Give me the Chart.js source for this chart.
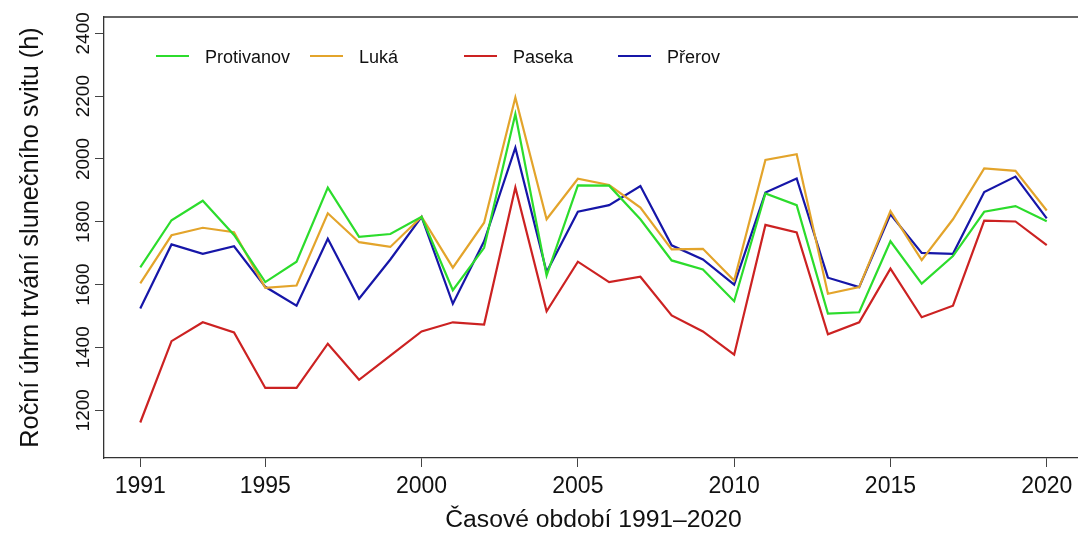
<!DOCTYPE html>
<html>
<head>
<meta charset="utf-8">
<script src="https://cdn.jsdelivr.net/npm/chart.js@4"></script>
<style>
  html, body { margin: 0; padding: 0; background: #fff; overflow: hidden; }
  #wrap { width: 1090px; height: 536px; }
</style>
</head>
<body>
<div id="wrap"><canvas id="lineChart"></canvas></div>
<script>
// -- Data --
const years = [1991, 1992, 1993, 1994, 1995, 1996, 1997, 1998, 1999, 2000,
  2001, 2002, 2003, 2004, 2005, 2006, 2007, 2008, 2009, 2010,
  2011, 2012, 2013, 2014, 2015, 2016, 2017, 2018, 2019, 2020]

const protivanov = [1655, 1805, 1867, 1758, 1608, 1673, 1909, 1752, 1761, 1816,
  1582, 1717, 2143, 1629, 1916, 1915, 1808, 1677, 1648, 1547,
  1890, 1853, 1508, 1512, 1738, 1603, 1691, 1832, 1850, 1802]
const luka = [1604, 1757, 1781, 1767, 1590, 1597, 1827, 1735, 1720, 1816,
  1654, 1797, 2196, 1808, 1937, 1917, 1845, 1712, 1714, 1613,
  1997, 2015, 1571, 1592, 1834, 1678, 1808, 1970, 1962, 1836]
const paseka = [1161, 1420, 1480, 1448, 1271, 1271, 1412, 1297, 1374, 1451,
  1480, 1473, 1909, 1515, 1673, 1608, 1625, 1502, 1451, 1377,
  1790, 1766, 1442, 1480, 1651, 1496, 1533, 1804, 1801, 1726]
const prerov = [1524, 1728, 1698, 1722, 1593, 1533, 1746, 1555, 1680, 1816,
  1539, 1738, 2036, 1640, 1832, 1853, 1914, 1725, 1680, 1600,
  1893, 1938, 1622, 1592, 1824, 1701, 1698, 1895, 1944, 1811]

const xTicks = [1991, 1995, 2000, 2005, 2010, 2015, 2020]
const yTicks = [1200, 1400, 1600, 1800, 2000, 2200, 2400]

const seriesNames = ['Protivanov', 'Luká', 'Paseka', 'Přerov']
const seriesColors = ['#2cdc2c', '#e3a42b', '#cc2222', '#1616a8']

// -- Helpers --
const FONT = "'Liberation Sans', Arial, sans-serif"

let toPoints = function(values) {
  return years.map((yr, i) => ({ x: yr, y: values[i] }))
}

let makeDataset = function(i, values) {
  return {
    label: seriesNames[i],
    data: toPoints(values),
    borderColor: seriesColors[i],
    backgroundColor: seriesColors[i],
    borderWidth: 2.2,
    pointRadius: 0,
    tension: 0,
    fill: false
  }
}

// frame line on top of the plot (left/bottom come from the axes)
const framePlugin = {
  id: 'frame',
  afterDraw(chart) {
    const { ctx, chartArea: a } = chart
    ctx.save()
    ctx.strokeStyle = '#333'
    ctx.lineWidth = 1.3
    ctx.beginPath()
    ctx.moveTo(a.left, a.top)
    ctx.lineTo(a.right + 10, a.top)
    ctx.stroke()
    ctx.restore()
  }
}

// R-style horizontal legend inside the plot
const legendPlugin = {
  id: 'rLegend',
  afterDraw(chart) {
    const ctx = chart.ctx
    ctx.save()
    ctx.font = '18px ' + FONT
    ctx.textBaseline = 'middle'
    ctx.textAlign = 'left'
    chart.data.datasets.forEach((ds, i) => {
      const x0 = 156 + i * 154
      ctx.strokeStyle = ds.borderColor
      ctx.lineWidth = 2.2
      ctx.beginPath()
      ctx.moveTo(x0, 56)
      ctx.lineTo(x0 + 33, 56)
      ctx.stroke()
      ctx.fillStyle = '#111'
      ctx.fillText(ds.label, x0 + 49, 58)
    })
    ctx.restore()
  }
}

let chart = new Chart(document.getElementById('lineChart'), {
  type: 'line',
  data: {
    datasets: [
      makeDataset(0, protivanov),
      makeDataset(1, luka),
      makeDataset(2, paseka),
      makeDataset(3, prerov)
    ]
  },
  options: {
    responsive: true,
    maintainAspectRatio: false,
    animation: false,
    events: [],
    layout: { padding: { top: 17, right: 7, left: 0, bottom: 0 } },
    plugins: {
      legend: { display: false },
      tooltip: { enabled: false }
    },
    scales: {
      x: {
        type: 'linear',
        min: 1989.84,
        max: 2021.16,
        afterBuildTicks: scale => { scale.ticks = xTicks.map(v => ({ value: v })) },
        afterFit: scale => { scale.height = 78 },
        grid: { drawOnChartArea: false, tickLength: 9, color: '#444', lineWidth: 1 },
        border: { color: '#333', width: 1.3 },
        ticks: {
          padding: 6,
          color: '#111',
          font: { family: FONT, size: 23 },
          maxRotation: 0,
          callback: v => String(v)
        },
        title: {
          display: true,
          text: 'Časové období 1991–2020',
          color: '#111',
          font: { family: FONT, size: 24.7, lineHeight: 1.2 },
          padding: { top: 0, bottom: 1 }
        }
      },
      y: {
        type: 'linear',
        min: 1048,
        max: 2452,
        afterBuildTicks: scale => { scale.ticks = yTicks.map(v => ({ value: v })) },
        afterFit: scale => { scale.width = 104 },
        grid: { drawOnChartArea: false, tickLength: 9, color: '#444', lineWidth: 1 },
        border: { color: '#333', width: 1.3 },
        ticks: {
          padding: -10,
          crossAlign: 'center',
          minRotation: 90,
          maxRotation: 90,
          color: '#111',
          font: { family: FONT, size: 19 },
          callback: v => String(v)
        },
        title: {
          display: true,
          text: 'Roční úhrn trvání slunečního svitu (h)',
          color: '#111',
          font: { family: FONT, size: 25.3, lineHeight: 1.2 },
          padding: { top: 16, bottom: 0 }
        }
      }
    }
  },
  plugins: [framePlugin, legendPlugin]
})
</script>
</body>
</html>
